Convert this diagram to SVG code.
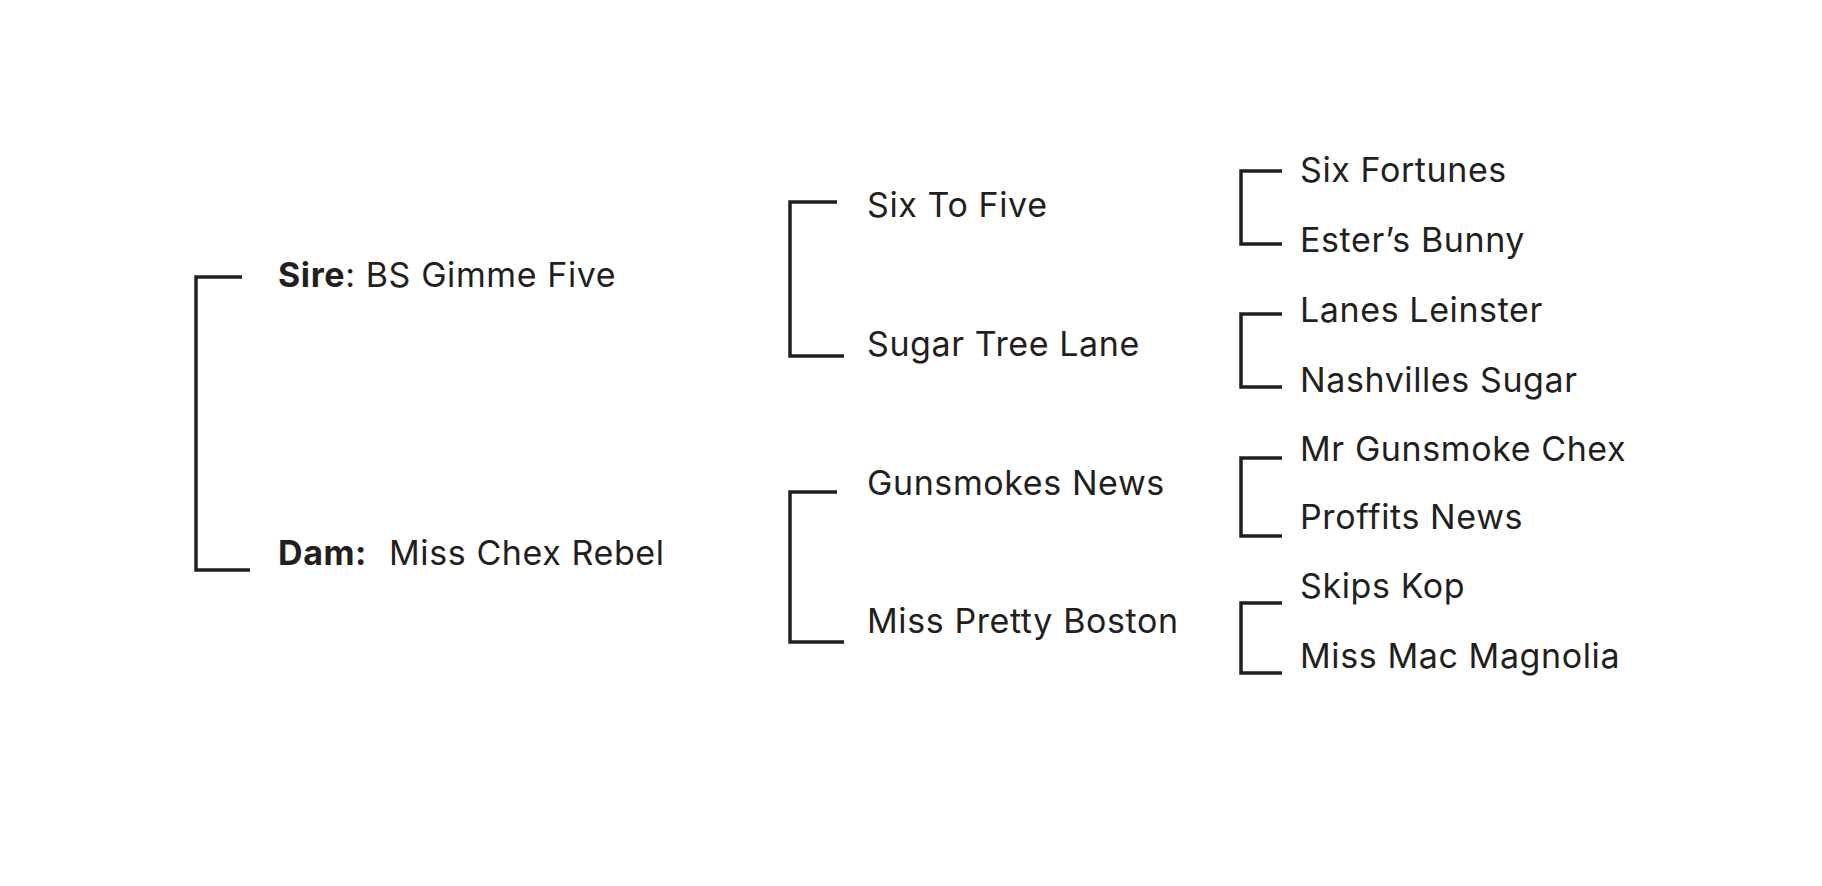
<svg xmlns="http://www.w3.org/2000/svg" width="1822" height="886" viewBox="0 0 1822 886">
<style>
.t{font-family:Inter,"Liberation Sans",sans-serif;font-size:34px;letter-spacing:0.6px;fill:#231f20}
.b{font-weight:700}
.c{fill:none;stroke:#231f20;stroke-width:3.5}
</style>
<rect width="1822" height="886" fill="#fff"/>
<g id="connectors">
<path class="c" d="M242 277H196V570H250"/>
<path class="c" d="M837 202H790V356H844"/>
<path class="c" d="M837 492H790V642H844"/>
<path class="c" d="M1282 171H1241V244H1282"/>
<path class="c" d="M1282 314H1241V387H1282"/>
<path class="c" d="M1282 458H1241V536H1282"/>
<path class="c" d="M1282 603H1241V673H1282"/>
</g>
<g id="sire"><text class="t" x="278" y="287"><tspan class="b">Sire</tspan>: BS Gimme Five</text></g>
<g id="dam"><text class="t" x="278" y="565"><tspan class="b">Dam:</tspan></text><text class="t" x="389" y="565" letter-spacing="0.3">Miss Chex Rebel</text></g>
<g id="six-to-five"><text class="t" x="867" y="217">Six To Five</text></g>
<g id="sugar-tree-lane"><text class="t" x="867" y="356">Sugar Tree Lane</text></g>
<g id="gunsmokes-news"><text class="t" x="867" y="495">Gunsmokes News</text></g>
<g id="miss-pretty-boston"><text class="t" x="867" y="633">Miss Pretty Boston</text></g>
<g id="six-fortunes"><text class="t" x="1300" y="182">Six Fortunes</text></g>
<g id="esters-bunny"><text class="t" x="1300" y="252">Ester’s Bunny</text></g>
<g id="lanes-leinster"><text class="t" x="1300" y="322">Lanes Leinster</text></g>
<g id="nashvilles-sugar"><text class="t" x="1300" y="392">Nashvilles Sugar</text></g>
<g id="mr-gunsmoke-chex"><text class="t" x="1300" y="461">Mr Gunsmoke Chex</text></g>
<g id="proffits-news"><text class="t" x="1300" y="529">Proffits News</text></g>
<g id="skips-kop"><text class="t" x="1300" y="598">Skips Kop</text></g>
<g id="miss-mac-magnolia"><text class="t" x="1300" y="668">Miss Mac Magnolia</text></g>
</svg>
